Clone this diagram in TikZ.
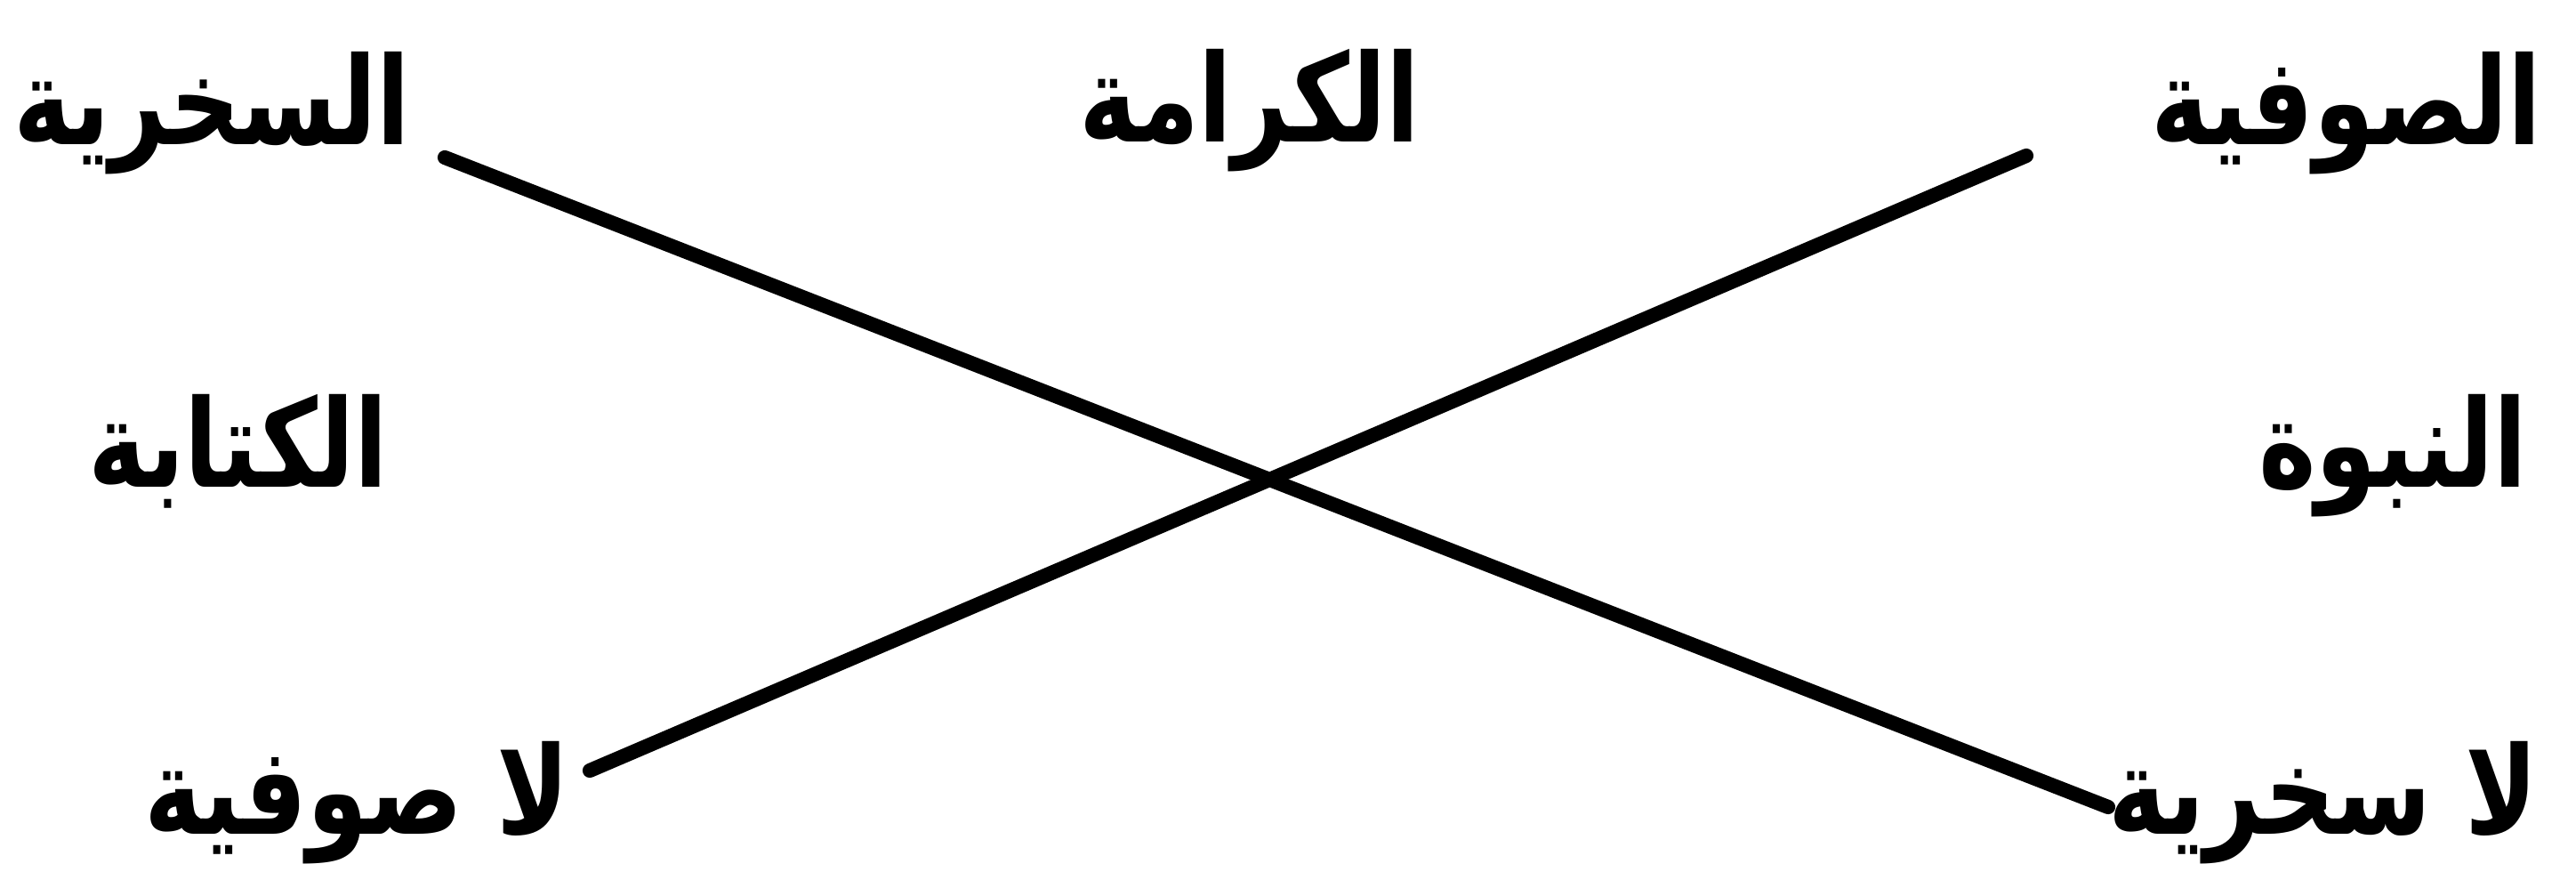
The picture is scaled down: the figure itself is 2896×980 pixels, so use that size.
\documentclass[tikz,border=0pt]{standalone}
\usepackage{fontspec}
\newfontfamily\arabicfont[Script=Arabic, FakeStretch=0.8]{DejaVu Sans}
\TeXXeTstate=1
\usetikzlibrary{positioning}

\tikzset{
  lbl/.style={font=\arabicfont\bfseries\fontsize{39}{44}\selectfont, inner sep=0pt},
  cross/.style={line width=4.6pt, line cap=round}
}

\begin{document}
\begin{tikzpicture}[x=0.01cm, y=-0.01cm]
    \useasboundingbox (0,0) rectangle (2896,980);
    % Hàng trên
    \node[lbl, anchor=base east] (sukhriya) at (462,163) {\beginR السخرية\endR};
    \node[lbl, anchor=base] (karama) at (1405,160) {\beginR الكرامة\endR};
    \node[lbl, anchor=base west] (sufiya) at (2418,163) {\beginR الصوفية\endR};
    % Hàng giữa
    \node[lbl, anchor=base] (kitaba) at (268,548) {\beginR الكتابة\endR};
    \node[lbl, anchor=base] (nubuwwa) at (2690,548) {\beginR النبوة\endR};
    % Hàng dưới
    \node[lbl, anchor=base east] (lasufiya) at (641,938) {\beginR لا صوفية\endR};
    \node[lbl, anchor=base west] (lasukhriya) at (2370,938) {\beginR لا سخرية\endR};
    % Hai đường chéo
    \draw[cross] ([shift={(38,14)}]sukhriya.base east) -- ([shift={(0,-31)}]lasukhriya.base west);
    \draw[cross] ([shift={(-140,12)}]sufiya.base west) -- ([shift={(22,-72)}]lasufiya.base east);
\end{tikzpicture}
\end{document}
